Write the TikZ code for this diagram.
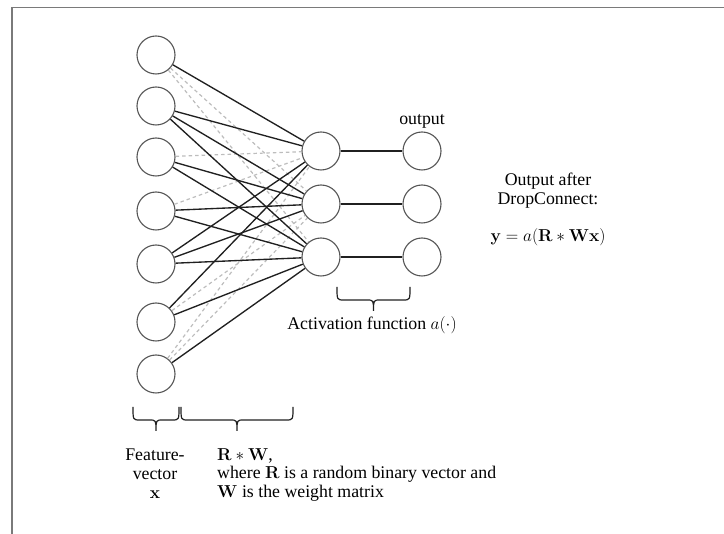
\documentclass[tikz,border=0pt]{standalone}
\usepackage[no-math]{fontspec}
\setmainfont{Liberation Serif}
\definecolor{circcol}{HTML}{555555}
\definecolor{linecol}{HTML}{202020}
\definecolor{dashcol}{HTML}{BDBDBD}
\definecolor{bordercol}{HTML}{7A7A7A}
\newcommand\dcbrace[3]{%
  \pgfmathsetmacro\dcxm{(#1+#2)/2}%
  \draw[brc] (#1,#3) .. controls (#1,#3+13) .. (#1+7,#3+13) -- (\dcxm-7,#3+13)
    .. controls (\dcxm,#3+13) .. (\dcxm,#3+24)
    .. controls (\dcxm,#3+13) .. (\dcxm+7,#3+13) -- (#2-7,#3+13)
    .. controls (#2,#3+13) .. (#2,#3);}
\begin{document}
\begin{tikzpicture}[x=1pt,y=-1pt,
  neuron/.style={circle,draw=circcol,line width=1.1pt,minimum size=38pt,inner sep=0pt},
  conn/.style={draw=linecol,line width=1.35pt},
  drop/.style={draw=dashcol,line width=1.2pt,dash pattern=on 3.5pt off 3pt},
  lbl/.style={inner sep=0pt,anchor=base,font=\fontsize{17.8}{19}\selectfont},
  lbll/.style={lbl,anchor=base west},
  brc/.style={draw=linecol,line width=1.2pt}]
\useasboundingbox (0,0) rectangle (724,534);
\draw[bordercol,line width=1.6pt] (12,534) -- (12,7.5) -- (724,7.5);
% neurons
\foreach \i/\y in {1/55,2/106,3/157,4/211,5/264,6/322,7/374}
  \node[neuron] (i\i) at (156,\y) {};
\foreach \i/\y in {1/151,2/204,3/257}{
  \node[neuron] (h\i) at (321,\y) {};
  \node[neuron] (o\i) at (422,\y) {};
}
% dropped connections
\foreach \a/\b in {i1/h2,i1/h3,i3/h1,i4/h1,i6/h2,i7/h1,i7/h2}
  \draw[drop] (\a) -- (\b);
% kept connections
\foreach \a/\b in {i1/h1,i2/h1,i2/h2,i2/h3,i3/h2,i3/h3,i4/h2,i4/h3,i5/h1,i5/h2,i5/h3,i6/h1,i6/h3,i7/h3}
  \draw[conn] (\a) -- (\b);
\foreach \i in {1,2,3}
  \draw[conn] (h\i) -- (o\i);
% braces
\dcbrace{337}{410}{287}
\dcbrace{133}{179}{407}
\dcbrace{181}{293}{407}
% labels
\node[lbl] (outlbl) at (422,125) {output};
\node[lbl] (actlbl) at (372,330) {Activation function $a(\cdot)$};
\node[lbl] (oa1) at (548,186) {Output after};
\node[lbl] (oa2) at (548,205) {DropConnect:};
\node[lbl] (formula) at (548,242) {$\mathbf{y}=a(\mathbf{R}*\mathbf{W}\mathbf{x})$};
\node[lbl] (f1) at (155,461) {Feature-};
\node[lbl] (f2) at (155,480) {vector};
\node[lbl] (f3) at (155,499) {$\mathbf{x}$};
\node[lbll] (r1) at (217,461) {$\mathbf{R}*\mathbf{W}$,};
\node[lbll] (r2) at (217,479) {where $\mathbf{R}$ is a random binary vector and};
\node[lbll] (r3) at (217,498) {$\mathbf{W}$ is the weight matrix};
\end{tikzpicture}
\end{document}
